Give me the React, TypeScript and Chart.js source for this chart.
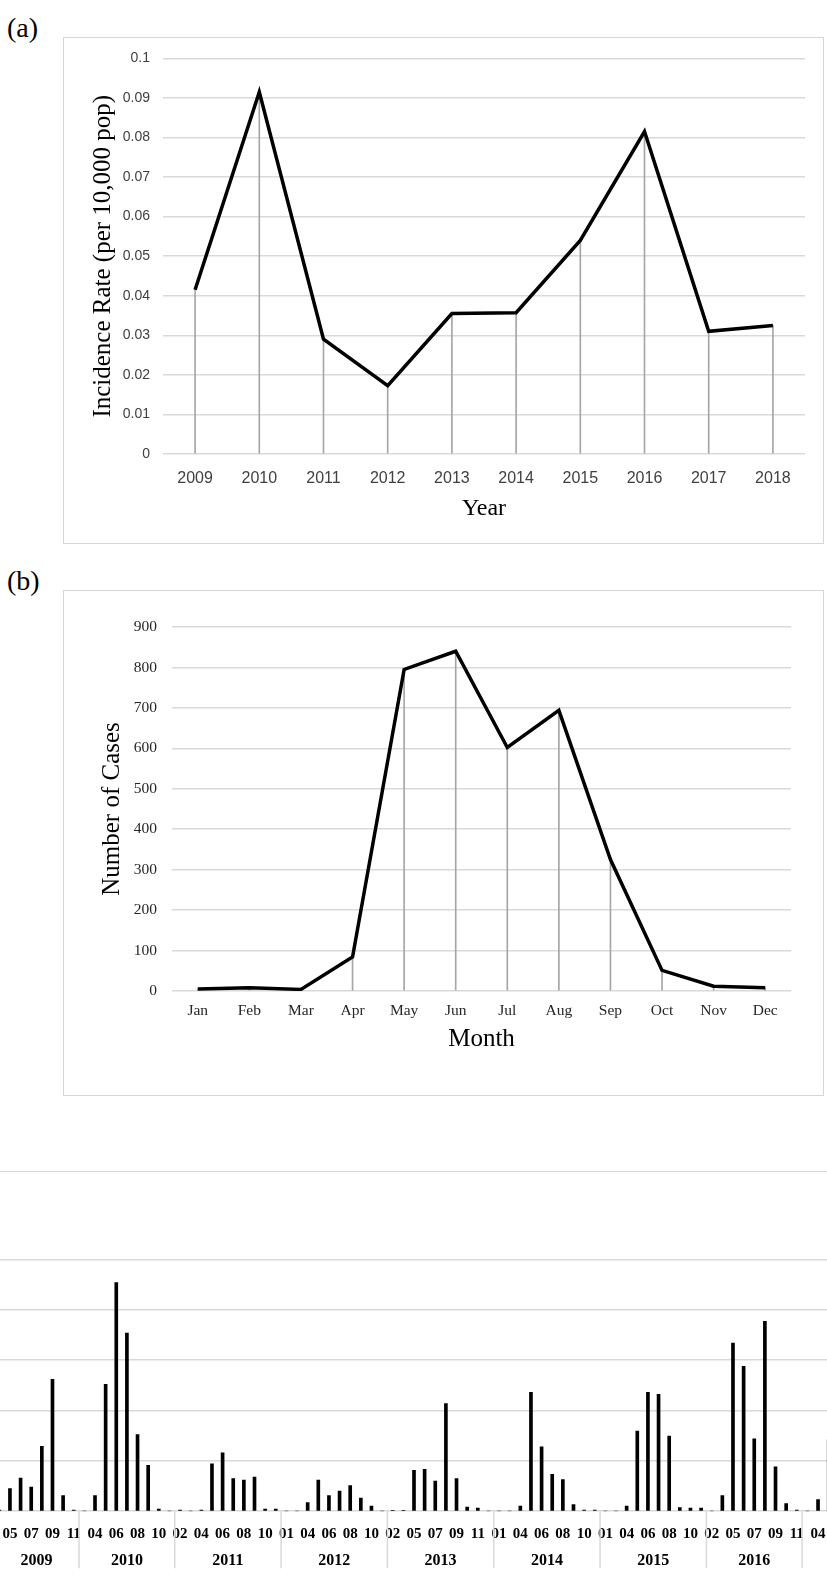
import React, { useEffect, useRef } from 'react';
import { Chart, registerables } from 'chart.js';

Chart.register(...registerables);

// ---------- Panel (a) ----------
const yearsA = ['2009', '2010', '2011', '2012', '2013', '2014', '2015', '2016', '2017', '2018'];
const incidenceA = [0.0415, 0.0915, 0.029, 0.0173, 0.0355, 0.0357, 0.054, 0.0815, 0.031, 0.0325];
const yTicksA = ['0', '0.01', '0.02', '0.03', '0.04', '0.05', '0.06', '0.07', '0.08', '0.09', '0.1'];

// ---------- Panel (b) ----------
const monthsB = ['Jan', 'Feb', 'Mar', 'Apr', 'May', 'Jun', 'Jul', 'Aug', 'Sep', 'Oct', 'Nov', 'Dec'];
const casesB = [5, 8, 4, 84, 795, 840, 602, 694, 325, 51, 12, 8];
const yTicksB = ['0', '100', '200', '300', '400', '500', '600', '700', '800', '900'];

// ---------- Panel (c) ----------
const yearsC = ['2009', '2010', '2011', '2012', '2013', '2014', '2015', '2016', '2017'];
const monthsC = [
  ['04', '05', '06', '07', '08', '09', '10', '11'],
  ['03', '04', '05', '06', '07', '08', '09', '10', '11'],
  ['02', '03', '04', '05', '06', '07', '08', '09', '10', '11'],
  ['01', '03', '04', '05', '06', '07', '08', '09', '10', '11'],
  ['02', '04', '05', '06', '07', '08', '09', '10', '11', '12'],
  ['01', '03', '04', '05', '06', '07', '08', '09', '10', '11'],
  ['01', '03', '04', '05', '06', '07', '08', '09', '10', '11'],
  ['02', '04', '05', '06', '07', '08', '09', '10', '11'],
  ['03', '04', '05'],
];
const casesC = [
  [1, 22.5, 33, 24, 64.5, 131, 15.5, 1],
  [0, 15.5, 126, 227, 177, 76, 45.5, 2, 0],
  [1, 0, 1, 47, 58, 32.5, 31, 34, 2, 2],
  [0, 0, 8.5, 31, 15.5, 20, 25.5, 13, 5, 0],
  [0.7, 0.7, 40.5, 41.5, 30, 107, 32.5, 4, 3, 0],
  [0, 0, 5, 118, 64, 36.5, 31.5, 6.5, 1, 1],
  [0, 0, 5, 79.5, 118, 116, 74.5, 3.5, 3, 3],
  [0, 15.5, 167, 144, 72, 188.5, 44, 7.5, 1],
  [0, 11.5, 71],
];
const incompleteYearsC = ['2017'];

const SERIF = "'Liberation Serif', 'Times New Roman', serif";
const SANS = "'Liberation Sans', Arial, sans-serif";
const GRID = '#d9d9d9';

function useChart(ref: React.RefObject<HTMLCanvasElement>, make: () => any) {
  useEffect(() => {
    if (!ref.current) return;
    const chart = new Chart(ref.current, make());
    return () => chart.destroy();
  }, []);
}

function configA() {
  return {
    type: 'bar',
    data: {
      labels: yearsA,
      datasets: [
        {
          type: 'line',
          data: incidenceA,
          borderColor: '#000',
          borderWidth: 3.5,
          pointRadius: 0,
          tension: 0,
          borderJoinStyle: 'miter',
          order: 0,
        },
        {
          type: 'bar',
          data: incidenceA,
          backgroundColor: '#a6a6a6',
          barThickness: 1,
          order: 1,
        },
      ],
    },
    options: {
      animation: false,
      responsive: false,
      events: [],
      layout: { padding: { left: 0, top: 20, right: 19, bottom: 0 } },
      plugins: { legend: { display: false }, tooltip: { enabled: false } },
      scales: {
        x: {
          offset: true,
          grid: { display: false, drawTicks: false },
          border: { display: false },
          ticks: { padding: 15.4, maxRotation: 0, color: '#404040', font: { family: SANS, size: 16 } },
          title: {
            display: true,
            text: 'Year',
            color: '#000',
            font: { family: SERIF, size: 24 },
            padding: { top: 0, bottom: 20.6 },
          },
          afterFit: (s: any) => {
            s.height = 90;
            s.paddingLeft = 0;
            s.paddingRight = 0;
          },
        },
        y: {
          min: 0,
          max: 0.1,
          ticks: {
            stepSize: 0.01,
            padding: 13,
            color: '#404040',
            font: { family: SANS, size: 14 },
            callback: (_v: any, i: number) => yTicksA[i],
          },
          grid: { color: GRID, lineWidth: 1.5, drawTicks: false },
          border: { display: false },
          title: {
            display: true,
            text: 'Incidence Rate (per 10,000 pop)',
            color: '#000',
            font: { family: SERIF, size: 25 },
            padding: { top: 25, bottom: 0 },
          },
          afterFit: (s: any) => {
            s.width = 100;
          },
        },
      },
    },
  };
}

function configB() {
  return {
    type: 'bar',
    data: {
      labels: monthsB,
      datasets: [
        {
          type: 'line',
          data: casesB,
          borderColor: '#000',
          borderWidth: 3.5,
          pointRadius: 0,
          tension: 0,
          borderJoinStyle: 'miter',
          order: 0,
        },
        {
          type: 'bar',
          data: casesB,
          backgroundColor: '#a6a6a6',
          barThickness: 1,
          order: 1,
        },
      ],
    },
    options: {
      animation: false,
      responsive: false,
      events: [],
      layout: { padding: { left: 0, top: 37, right: 33, bottom: 0 } },
      plugins: { legend: { display: false }, tooltip: { enabled: false } },
      scales: {
        x: {
          offset: true,
          grid: { display: false, drawTicks: false },
          border: { display: false },
          ticks: { padding: 10.7, maxRotation: 0, color: '#262626', font: { family: SERIF, size: 15.5 } },
          title: {
            display: true,
            text: 'Month',
            color: '#000',
            font: { family: SERIF, size: 25 },
            padding: { top: 0, bottom: 42 },
          },
          afterFit: (s: any) => {
            s.height = 105;
            s.paddingLeft = 0;
            s.paddingRight = 0;
          },
        },
        y: {
          min: 0,
          max: 900,
          ticks: {
            stepSize: 100,
            padding: 15,
            color: '#262626',
            font: { family: SERIF, size: 15.5 },
            callback: (_v: any, i: number) => yTicksB[i],
          },
          grid: { color: GRID, lineWidth: 1.5, drawTicks: false },
          border: { display: false },
          title: {
            display: true,
            text: 'Number of Cases',
            color: '#000',
            font: { family: SERIF, size: 25 },
            padding: { top: 34, bottom: 0 },
          },
          afterFit: (s: any) => {
            s.width = 109;
          },
        },
      },
    },
  };
}

const yearGroupPlugin = {
  id: 'yearGroups',
  afterDraw(chart: any) {
    const { ctx, chartArea } = chart;
    const x = chart.scales.x;
    const half = (x.getPixelForValue(1) - x.getPixelForValue(0)) / 2;
    const y0 = chartArea.bottom;
    ctx.save();
    ctx.strokeStyle = GRID;
    ctx.lineWidth = 1.5;
    ctx.fillStyle = '#000';
    ctx.font = `bold 16px ${SERIF}`;
    ctx.textAlign = 'center';
    ctx.textBaseline = 'middle';
    let start = 0;
    const vline = (px: number) => {
      ctx.beginPath();
      ctx.moveTo(px, y0);
      ctx.lineTo(px, y0 + 57);
      ctx.stroke();
    };
    yearsC.forEach((yr, g) => {
      const n = monthsC[g].length;
      const left = x.getPixelForValue(start) - half;
      const right = x.getPixelForValue(start + n - 1) + half;
      vline(left);
      if (!incompleteYearsC.includes(yr)) ctx.fillText(yr, (left + right) / 2, y0 + 50);
      start += n;
      if (g === yearsC.length - 1) vline(right);
    });
    ctx.restore();
  },
};

function configC() {
  const labels = monthsC.flat();
  const data = casesC.flat();
  return {
    type: 'bar',
    data: {
      labels,
      datasets: [{ data, backgroundColor: '#000', barThickness: 3 }],
    },
    options: {
      animation: false,
      responsive: false,
      events: [],
      layout: { padding: { left: 0, top: 87.5, right: 0, bottom: 0 } },
      plugins: { legend: { display: false }, tooltip: { enabled: false } },
      scales: {
        x: {
          offset: true,
          grid: { display: false, drawTicks: false },
          border: { display: false },
          ticks: {
            autoSkip: false,
            maxRotation: 0,
            minRotation: 0,
            padding: 13.5,
            color: '#000',
            font: { family: SERIF, size: 15, weight: 'bold' },
            callback: (_v: any, i: number) => (i % 2 === 1 ? labels[i] : ''),
          },
          afterFit: (s: any) => {
            s.height = 80.8;
            s.paddingLeft = 0;
            s.paddingRight = 0;
          },
        },
        y: {
          min: 0,
          max: 250,
          ticks: { stepSize: 50, display: false },
          grid: { color: GRID, lineWidth: 1.5, drawTicks: false },
          border: { display: false },
          afterFit: (s: any) => {
            s.width = 0;
            s.paddingTop = 0;
            s.paddingBottom = 0;
          },
        },
      },
    },
    plugins: [yearGroupPlugin],
  };
}

const abs = (l: number, t: number, w: number, h: number): React.CSSProperties => ({
  position: 'absolute',
  left: l,
  top: t,
  width: w,
  height: h,
});

export default function App() {
  const refA = useRef<HTMLCanvasElement>(null);
  const refB = useRef<HTMLCanvasElement>(null);
  const refC = useRef<HTMLCanvasElement>(null);
  useChart(refA, configA);
  useChart(refB, configB);
  useChart(refC, configC);

  const panelLabel: React.CSSProperties = {
    position: 'absolute',
    fontFamily: SERIF,
    fontSize: 28,
    lineHeight: '28px',
    color: '#000',
    margin: 0,
  };
  const box: React.CSSProperties = { boxSizing: 'border-box', border: '1.5px solid #d6d6d6' };

  return (
    <div
      style={{
        position: 'absolute',
        left: 0,
        top: 0,
        width: 827,
        height: 1592,
        overflow: 'hidden',
        background: '#fff',
      }}
    >
      <div style={{ ...panelLabel, left: 7, top: 14 }}>(a)</div>
      <div style={{ ...abs(63, 37, 761, 507), ...box }} />
      <canvas ref={refA} width={761} height={507} style={abs(63, 37, 761, 507)} />

      <div style={{ ...panelLabel, left: 7, top: 567 }}>(b)</div>
      <div style={{ ...abs(63, 590, 761, 506), ...box }} />
      <canvas ref={refB} width={761} height={506} style={abs(63, 590, 761, 506)} />

      <div style={{ ...abs(0, 1171, 827, 0), borderTop: '1.5px solid #d6d6d6' }} />
      <canvas ref={refC} width={840} height={420} style={abs(-6, 1172, 840, 420)} />
    </div>
  );
}
